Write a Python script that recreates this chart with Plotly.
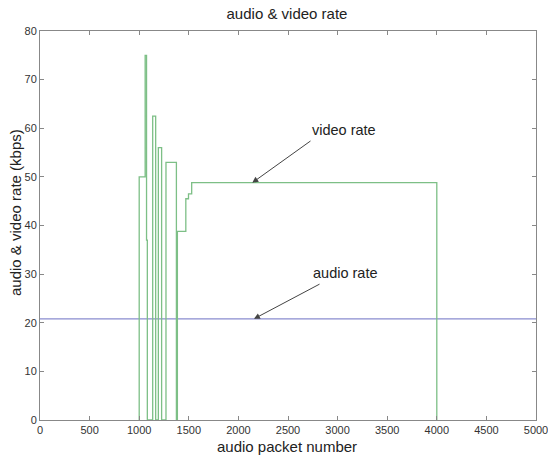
import plotly.graph_objects as go

# Data
video_x = [1000, 1000, 1060, 1074, 1082, 1136, 1166, 1193, 1226, 1270, 1375, 1385, 1470, 1497, 1529, 4000, 4000]
video_y = [0, 50, 75, 37, 0, 62.5, 0, 56, 0, 53, 0, 38.8, 45.5, 46.5, 48.8, 0, 0]
audio_x = [0, 5000]
audio_y = [20.8, 20.8]

x_ticks = [0, 500, 1000, 1500, 2000, 2500, 3000, 3500, 4000, 4500, 5000]
y_ticks = [0, 10, 20, 30, 40, 50, 60, 70, 80]

fig = go.Figure()
fig.add_trace(go.Scatter(x=audio_x, y=audio_y, mode="lines",
                         line=dict(color="#8a8ccf", width=1.2), showlegend=False))
fig.add_trace(go.Scatter(x=video_x, y=video_y, mode="lines", line_shape="hv",
                         line=dict(color="#7dbf86", width=1.3), showlegend=False))

font = "Liberation Sans, Arial, sans-serif"
axis_common = dict(showgrid=False, zeroline=False, ticks="inside", ticklen=4, automargin=False,
                   tickcolor="#888", linecolor="#888", linewidth=1, mirror="ticks",
                   showline=True, ticklabeloverflow="allow",
                   tickfont=dict(size=11, color="#333", family=font))

fig.update_layout(
    width=548, height=455,
    margin=dict(l=40, r=12, t=31, b=35),
    paper_bgcolor="white", plot_bgcolor="white",
    title=dict(text="audio & video rate", x=287 / 548, xanchor="center", y=1 - 14 / 455, yanchor="middle",
               font=dict(size=15, color="#222", family=font)),
    xaxis=dict(range=[0, 5000], tickvals=x_ticks, ticktext=[str(v) for v in x_ticks], **axis_common),
    yaxis=dict(range=[0, 80], tickvals=y_ticks, ticktext=[str(v) for v in y_ticks], **axis_common),
)

# axis titles as annotations for exact placement
fig.add_annotation(text="audio packet number", xref="paper", yref="paper",
                   x=(287 - 40) / 496, y=-(447 - 420) / 389, showarrow=False,
                   xanchor="center", yanchor="middle", font=dict(size=15, color="#222", family=font))
fig.add_annotation(text="audio & video rate (kbps)", xref="paper", yref="paper",
                   x=(16 - 40) / 496, y=(420 - 213) / 389, showarrow=False, textangle=-90,
                   xanchor="center", yanchor="middle", font=dict(size=15, color="#222", family=font))

fig.add_annotation(x=2140, y=48.8, xref="x", yref="y", ax=2742, ay=57.6, axref="x", ayref="y",
                   showarrow=True, arrowhead=2, arrowsize=1.2, arrowwidth=1, arrowcolor="#444", text="")
fig.add_annotation(x=3065, y=59.6, xref="x", yref="y", text="video rate", showarrow=False,
                   font=dict(size=14.5, color="#222", family=font))
fig.add_annotation(x=2157, y=20.8, xref="x", yref="y", ax=2833, ay=28.1, axref="x", ayref="y",
                   showarrow=True, arrowhead=2, arrowsize=1.2, arrowwidth=1, arrowcolor="#444", text="")
fig.add_annotation(x=3075, y=30.2, xref="x", yref="y", text="audio rate", showarrow=False,
                   font=dict(size=14.5, color="#222", family=font))

fig.write_html("out.html")
